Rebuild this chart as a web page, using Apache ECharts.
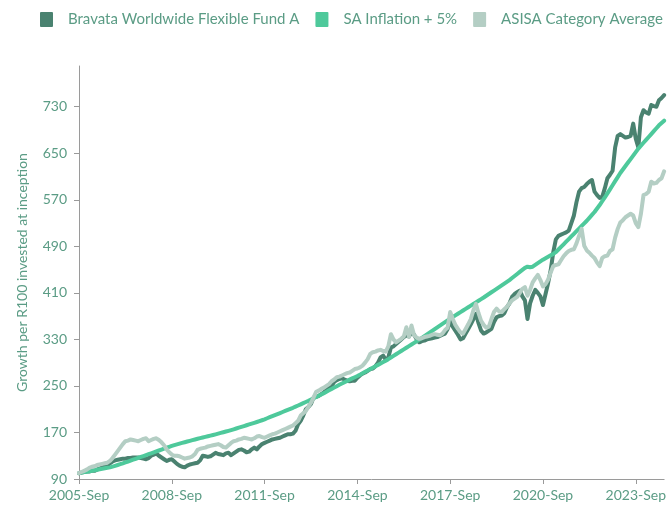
<!DOCTYPE html>
<html><head><meta charset="utf-8">
<script src="https://cdn.jsdelivr.net/npm/echarts@6/dist/echarts.min.js"></script>
<style>html,body{margin:0;padding:0;background:#fff}#c{width:669px;height:507px}</style>
</head><body><div id="c"></div>
<script>
const seriesNames = ["Bravata Worldwide Flexible Fund A", "SA Inflation + 5%", "ASISA Category Average"];
const monthNames = ["Sep","Oct","Nov","Dec","Jan","Feb","Mar","Apr","May","Jun","Jul","Aug"];
const startYear = 2005;
const yTicks = [90,170,250,330,410,490,570,650,730];

const fund = [
100,101,102,103,103,104,104,106,108,110,111,113,
117,120,122,123,124,125,125,126,126,127,127,127,
126,125,124,126,130,132,134,130,127,124,121,123,
124,120,116,113,111,110,113,115,116,117,118,122,
130,129,128,129,132,135,133,132,131,134,135,131,
134,137,140,141,139,136,137,141,144,141,146,150,
152,154,156,158,159,160,161,163,165,167,167,168,
173,184,190,199,210,214,219,230,231,233,236,239,
243,247,250,257,260,262,263,261,259,258,259,259,
264,268,271,273,276,279,280,284,290,299,302,295,
299,316,318,322,326,330,334,337,335,342,338,330,
325,327,328,330,331,332,333,334,336,338,340,348,
362,352,345,338,330,332,340,348,356,365,374,358,
345,340,342,345,348,360,368,370,371,375,385,392,
403,408,411,414,404,397,365,392,405,415,410,404,
389,408,427,449,480,502,508,510,512,514,517,530,
543,566,584,590,592,597,601,604,584,578,573,575,
590,607,613,620,660,680,683,680,677,678,680,701,
675,660,712,724,720,718,733,731,730,741,745,750];

const inflation = [
100,101,101.8,102.6,103.4,104.2,105,105.8,106.7,107.6,108.5,109.3,
110,111.3,112.7,114.1,115.5,117,118.5,120,121.6,123.2,124.8,126.4,
128,129.5,131,132.6,134.2,135.8,137.4,139,140.6,142.2,143.8,145.4,
147,148.3,149.5,150.8,152,153.2,154.4,155.6,156.8,158,159.1,160.2,
161.3,162.4,163.5,164.6,165.7,166.8,168,169.2,170.4,171.6,172.8,174.1,
175.4,176.8,178.2,179.6,181,182.4,183.8,185.2,186.6,188,189.5,191,
192.6,194.4,196.2,198,199.8,201.6,203.4,205.2,207,208.8,210.6,212.4,
214.4,216.4,218.4,220.4,222.4,224.4,226.6,228.8,231,233.2,235.4,237.6,
240,242.4,244.8,247.2,249.6,252,254.2,256.4,258.6,260.8,263,265,
267,269.4,271.8,274.2,276.6,279,281.4,283.8,286.2,288.6,291,293.4,
296,298.8,301.6,304.4,307.2,310,312.8,315.6,318.4,321.2,324,326.8,
329.6,332.6,335.6,338.6,341.6,344.6,347.6,350.6,353.6,356.6,359.6,362.6,
365.6,368.4,371.2,374,376.8,379.6,382.4,385.2,388,390.8,393.6,396.4,
399.2,402,405,408,411,414,417,420,423,426,429,432,
435.5,439,442.5,446,449.5,453,455,454,455,458,461,464,
467,469.5,472,474.5,477,480,484.5,489,493.5,498,502.5,507,
511.5,516,520.5,525,529.5,534,539,544,549,555,561,567.5,
574,581,588,595,602,609,616,622,628,634,640,646,
652,658,663,668,673,678,683,688,693,698,702,706];

const asisa = [
100,102,104,106,109,111,112,114,115,116,117,118,
121,126,132,138,144,150,155,156,158,157,156,155,
157,159,160,155,157,159,160,157,153,148,141,136,
132,130,130,129,127,125,126,127,129,133,140,142,
143,144,146,147,148,149,150,148,145,144,148,152,
155,156,158,159,161,160,159,158,160,163,164,162,
161,163,165,167,168,170,172,174,176,178,180,182,
186,190,199,203,207,214,221,230,240,242,245,247,
250,253,258,261,265,266,268,270,272,273,276,279,
280,282,285,290,296,305,308,309,311,312,310,309,
318,339,330,325,328,331,335,351,334,354,337,333,
331,332,334,335,336,338,339,338,337,340,346,350,
377,365,355,348,342,340,348,356,365,380,391,375,
362,355,350,352,365,377,383,378,377,382,386,392,
397,400,403,410,417,420,405,415,428,435,441,432,
421,425,433,445,456,458,459,466,473,478,482,484,
485,495,508,520,491,483,479,474,470,462,456,470,
473,474,482,485,505,520,531,535,540,543,546,543,
530,523,546,578,580,584,601,598,599,604,607,619];

const categories = [];
for (let i = 0; i < fund.length; i++) {
  const y = startYear + Math.floor((i + 8) / 12);
  categories.push(y + "-" + monthNames[i % 12]);
}

const colors = ["#4a8270", "#4ec99b", "#b4cec4"];
const textColor = "#5b9c85";
const FONT = "Lato";

const chart = echarts.init(document.getElementById('c'), null, {renderer: 'canvas'});
chart.setOption({
  animation: false,
  color: colors,
  textStyle: {fontFamily: FONT},
  legend: {
    left: 40, top: 12, width: 900, padding: 0,
    itemWidth: 13, itemHeight: 15, itemGap: 16,
    icon: 'path://M1,0 L12,0 Q13,0 13,1 L13,14 Q13,15 12,15 L1,15 Q0,15 0,14 L0,1 Q0,0 1,0 Z',
    textStyle: {color: textColor, fontSize: 15, fontFamily: FONT, padding: [0,0,0,10]},
    data: seriesNames
  },
  grid: {left: 79, right: 2, top: 66, bottom: 28, containLabel: false},
  xAxis: {
    type: 'category', data: categories, boundaryGap: false,
    axisLine: {lineStyle: {color: '#9a9a9a', width: 1}},
    axisTick: {interval: 35, length: 5, lineStyle: {color: '#9a9a9a'}},
    axisLabel: {interval: 35, color: textColor, fontSize: 14, margin: 9, fontFamily: FONT}
  },
  yAxis: {
    type: 'value', min: 90, max: 800,
    name: 'Growth per R100 invested at inception', nameLocation: 'middle', nameGap: 50,
    nameTextStyle: {color: textColor, fontSize: 14, fontFamily: FONT},
    splitLine: {show: false},
    axisLine: {show: true, lineStyle: {color: '#9a9a9a', width: 1}},
    axisTick: {show: true, length: 5, customValues: yTicks, lineStyle: {color: '#9a9a9a'}},
    axisLabel: {customValues: yTicks, color: textColor, fontSize: 14, margin: 12, fontFamily: FONT}
  },
  series: [
    {name: seriesNames[0], type: 'line', data: fund, showSymbol: false, symbol: 'none',
     lineStyle: {width: 4, cap: 'round', join: 'round'}},
    {name: seriesNames[1], type: 'line', data: inflation, showSymbol: false, symbol: 'none',
     lineStyle: {width: 4, cap: 'round', join: 'round'}},
    {name: seriesNames[2], type: 'line', data: asisa, showSymbol: false, symbol: 'none',
     lineStyle: {width: 4, cap: 'round', join: 'round'}}
  ]
});
</script></body></html>
